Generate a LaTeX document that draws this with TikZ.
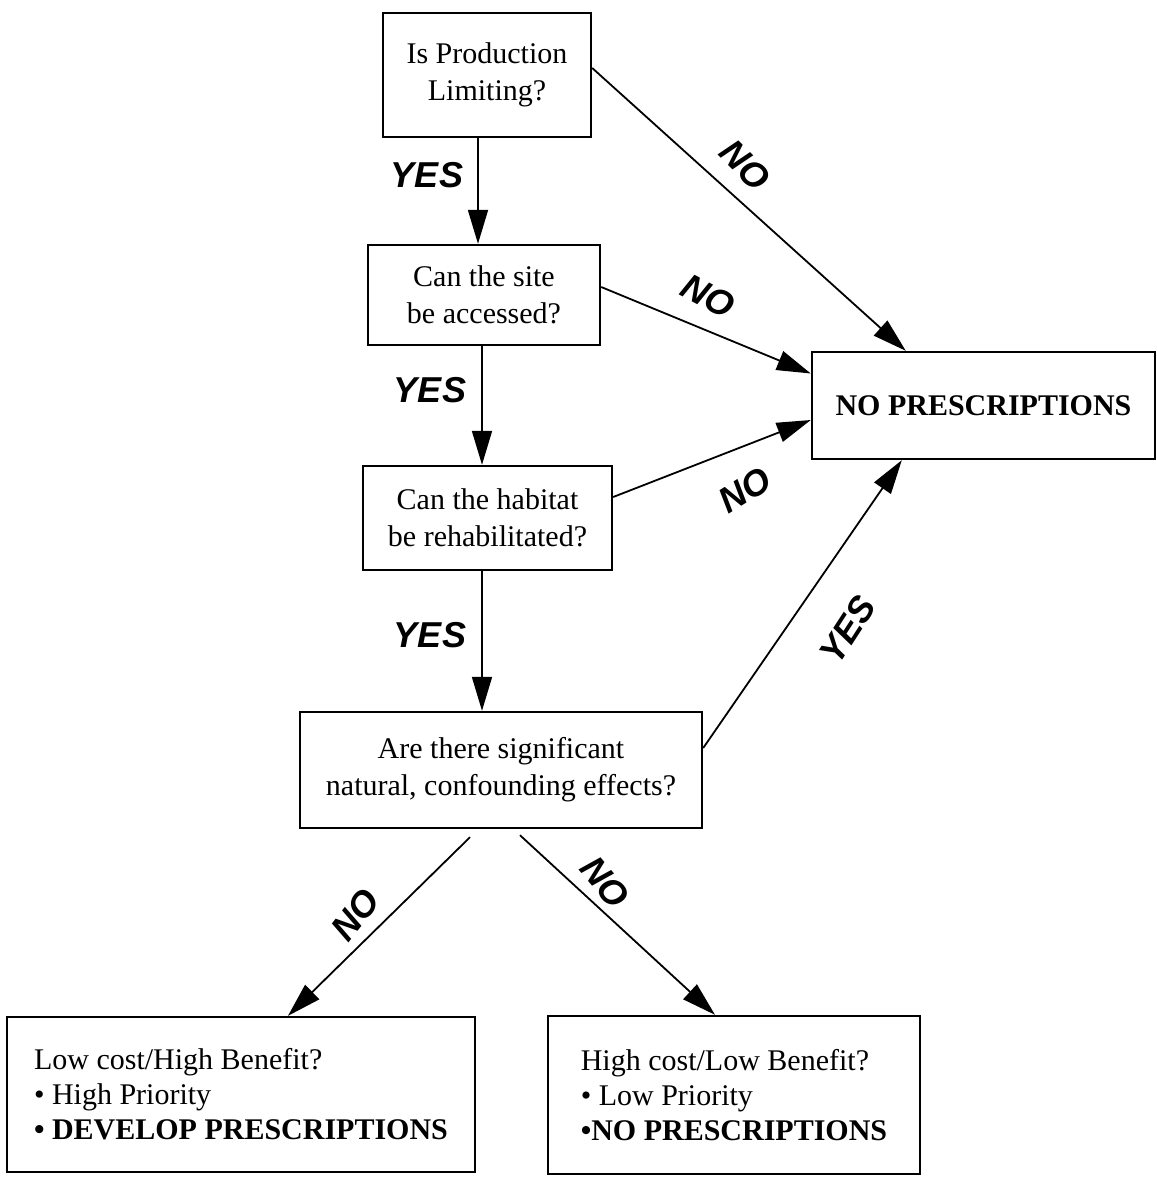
\documentclass[tikz,border=0pt]{standalone}
\usepackage{fontspec}
\setmainfont{Liberation Serif}
\newfontfamily\lblfont{Liberation Sans}
\usetikzlibrary{arrows.meta}
\tikzset{
  box/.style={draw,line width=1.2pt,inner sep=0pt,align=center,font=\fontsize{15}{18.5}\selectfont},
  leftbox/.style={box,align=left,font=\fontsize{15}{17.5}\selectfont},
  arr/.style={->,line width=0.9pt},
  ans/.style={font=\lblfont\bfseries\itshape\fontsize{18}{18}\selectfont,inner sep=0pt},
}
\begin{document}
\begin{tikzpicture}[x=0.5pt,y=-0.5pt,>={Triangle[length=17pt,width=10pt]}]
  \useasboundingbox (0,0) rectangle (1157,1180);
  % questions
  \node[box,minimum width=104pt,minimum height=62pt] (q1) at (487,75) {Is Production\\Limiting?};
  \node[box,minimum width=116pt,minimum height=50pt] (q2) at (484,295) {Can the site\\be accessed?};
  \node[box,minimum width=124.5pt,minimum height=52pt] (q3) at (487.5,518) {Can the habitat\\be rehabilitated?};
  \node[box,minimum width=201pt,minimum height=58pt] (q4) at (501,770) {Are there significant\\natural, confounding effects?};
  % outcomes
  \node[box,minimum width=171.5pt,minimum height=53.5pt] (np) at (983.5,405.5) {\bfseries NO PRESCRIPTIONS};
  \node[leftbox,minimum width=234pt,minimum height=77.5pt] (lb) at (241,1094.5)
    {Low cost/High Benefit?\\\textbullet{} High Priority\\\textbf{\textbullet{} DEVELOP PRESCRIPTIONS}};
  \node[leftbox,minimum width=186pt,minimum height=79pt] (rb) at (734,1095)
    {High cost/Low Benefit?\\\textbullet{} Low Priority\\\textbf{\textbullet NO PRESCRIPTIONS}};
  % yes path
  \draw[arr] ([xshift=-4.5pt]q1.south) -- ([xshift=-3pt]q2.north);
  \draw[arr] ([xshift=-1pt]q2.south) -- ([xshift=-2.75pt]q3.north);
  \draw[arr] ([xshift=-2.75pt]q3.south) -- ([xshift=-9.5pt]q4.north);
  % into no prescriptions
  \draw[arr] ([yshift=3.5pt]q1.east) -- ([xshift=47.5pt]np.north west);
  \draw[arr] ([yshift=4pt]q2.east) -- ([yshift=16pt]np.west);
  \draw[arr] ([yshift=10.5pt]q3.east) -- ([yshift=-7.25pt]np.west);
  \draw[arr] ([yshift=11pt]q4.east) -- ([xshift=45.5pt]np.south west);
  % split at the bottom
  \draw[arr] ([xshift=-15.5pt,yshift=-4pt]q4.south) -- ([xshift=23.5pt]lb.north);
  \draw[arr] ([xshift=9.5pt,yshift=-3pt]q4.south) -- ([xshift=-9.5pt]rb.north);
  % answers
  \node[ans] (yes1) at (427,175) {YES};
  \node[ans] (yes2) at (430,390) {YES};
  \node[ans] (yes3) at (430,635) {YES};
  \node[ans,rotate=-45] (no1) at (745,165) {NO};
  \node[ans,rotate=-28] (no2) at (708,296) {NO};
  \node[ans,rotate=32] (no3) at (745,490) {NO};
  \node[ans,rotate=57] (yes4) at (848,630) {YES};
  \node[ans,rotate=52] (no5) at (355,915) {NO};
  \node[ans,rotate=-50] (no6) at (605,882) {NO};
\end{tikzpicture}
\end{document}
